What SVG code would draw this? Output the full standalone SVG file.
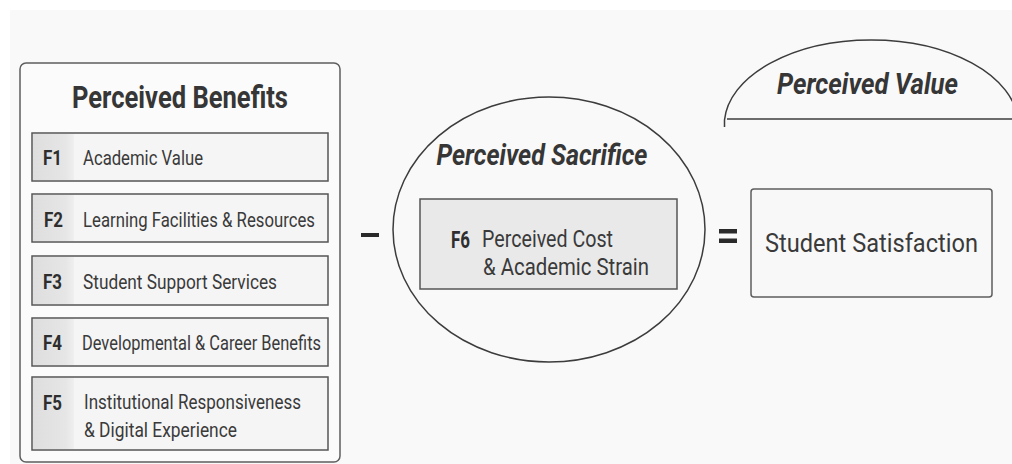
<svg xmlns="http://www.w3.org/2000/svg" width="1012" height="464" viewBox="0 0 1012 464">
  <defs>
    <linearGradient id="tagShade" x1="0" y1="0" x2="1" y2="0">
      <stop offset="0" stop-color="#dedede"/>
      <stop offset="0.8" stop-color="#e6e6e6"/>
      <stop offset="1" stop-color="#efefef"/>
    </linearGradient>
    <style>
      text { font-family: Roboto, "Liberation Sans", "Noto Sans", sans-serif; fill: #363636; }
      .title { font-size: 31px; font-weight: 700; }
      .title-it { font-size: 30px; font-weight: 700; font-style: italic; }
      .tag { font-size: 21px; font-weight: 700; fill: #2e2e2e; }
      .item { font-size: 21px; font-weight: 400; fill: #3a3a3a; }
      .item-lg { font-size: 24px; font-weight: 400; fill: #3a3a3a; }
      .big { font-size: 26px; font-weight: 400; fill: #3a3a3a; }
      .panel { fill: #fbfbfb; stroke: #5e5e5e; stroke-width: 1.5; }
      .row { fill: #f5f5f5; stroke: #555; stroke-width: 1.5; }
      .outline { fill: none; stroke: #3c3c3c; stroke-width: 1.5; }
      .op { fill: #2a2a2a; }
    </style>
  </defs>

  <!-- page background -->
  <rect x="0" y="0" width="1012" height="464" fill="#ffffff"/>
  <rect x="10" y="10" width="1002" height="454" fill="#f9f9f9"/>

  <!-- benefits panel -->
  <g id="benefits">
    <rect class="panel" x="20" y="63" width="320" height="399" rx="6"/>
    <text class="title" x="180" y="108" text-anchor="middle" textLength="216" lengthAdjust="spacingAndGlyphs">Perceived Benefits</text>
  </g>

  <g id="f1">
    <rect class="row" x="32" y="133" width="296" height="48"/>
    <rect x="33" y="134" width="41" height="46" fill="url(#tagShade)"/>
    <text class="tag" x="43" y="165" textLength="19" lengthAdjust="spacingAndGlyphs">F1</text>
    <text class="item" x="83" y="165" textLength="120" lengthAdjust="spacingAndGlyphs">Academic Value</text>
  </g>

  <g id="f2">
    <rect class="row" x="32" y="194" width="296" height="48"/>
    <rect x="33" y="195" width="41" height="46" fill="url(#tagShade)"/>
    <text class="tag" x="44" y="227" textLength="19" lengthAdjust="spacingAndGlyphs">F2</text>
    <text class="item" x="83" y="227" textLength="232" lengthAdjust="spacingAndGlyphs">Learning Facilities &amp; Resources</text>
  </g>

  <g id="f3">
    <rect class="row" x="32" y="256" width="296" height="49"/>
    <rect x="33" y="257" width="41" height="47" fill="url(#tagShade)"/>
    <text class="tag" x="43" y="289" textLength="19" lengthAdjust="spacingAndGlyphs">F3</text>
    <text class="item" x="83" y="289" textLength="194" lengthAdjust="spacingAndGlyphs">Student Support Services</text>
  </g>

  <g id="f4">
    <rect class="row" x="32" y="318" width="296" height="48"/>
    <rect x="33" y="319" width="41" height="46" fill="url(#tagShade)"/>
    <text class="tag" x="43" y="350" textLength="19" lengthAdjust="spacingAndGlyphs">F4</text>
    <text class="item" x="82" y="350" textLength="239" lengthAdjust="spacingAndGlyphs">Developmental &amp; Career Benefits</text>
  </g>

  <g id="f5">
    <rect class="row" x="32" y="377" width="296" height="73"/>
    <rect x="33" y="378" width="41" height="71" fill="url(#tagShade)"/>
    <text class="tag" x="43" y="410" textLength="19" lengthAdjust="spacingAndGlyphs">F5</text>
    <text class="item" x="84" y="409" textLength="217" lengthAdjust="spacingAndGlyphs">Institutional Responsiveness</text>
    <text class="item" x="84" y="437" textLength="153" lengthAdjust="spacingAndGlyphs">&amp; Digital Experience</text>
  </g>

  <!-- sacrifice ellipse -->
  <g id="sacrifice">
    <ellipse class="outline" cx="549" cy="229.5" rx="156" ry="132.5"/>
    <text class="title-it" x="542" y="165" text-anchor="middle" textLength="211" lengthAdjust="spacingAndGlyphs">Perceived Sacrifice</text>
  </g>

  <g id="f6">
    <rect x="420" y="199" width="257" height="90" fill="#e9e9e9" stroke="#555" stroke-width="1.5"/>
    <text class="tag" x="451" y="248" style="font-size:23px" textLength="19" lengthAdjust="spacingAndGlyphs">F6</text>
    <text class="item-lg" x="482" y="247" textLength="131" lengthAdjust="spacingAndGlyphs">Perceived Cost</text>
    <text class="item-lg" x="483" y="275" textLength="166" lengthAdjust="spacingAndGlyphs">&amp; Academic Strain</text>
  </g>

  <!-- value arch -->
  <g id="value">
    <path class="outline" d="M724.5,127 L724.5,120 A147,85 0 0 1 1018,120"/>
    <line x1="727" y1="119" x2="1012" y2="119" stroke="#3c3c3c" stroke-width="1.5"/>
    <text class="title-it" x="867.5" y="94" text-anchor="middle" textLength="181" lengthAdjust="spacingAndGlyphs">Perceived Value</text>
  </g>

  <g id="satisfaction">
    <rect x="751" y="189" width="241" height="108" rx="3" fill="#f8f8f8" stroke="#5e5e5e" stroke-width="1.5"/>
    <text class="big" x="871.5" y="252" text-anchor="middle" textLength="213" lengthAdjust="spacingAndGlyphs">Student Satisfaction</text>
  </g>

  <!-- operators between the terms -->
  <g id="connectors">
    <rect class="op" x="361" y="233" width="18" height="4"/>
    <rect class="op" x="719" y="229" width="18" height="4.5"/>
    <rect class="op" x="719" y="238.5" width="18" height="4.5"/>
  </g>
</svg>
